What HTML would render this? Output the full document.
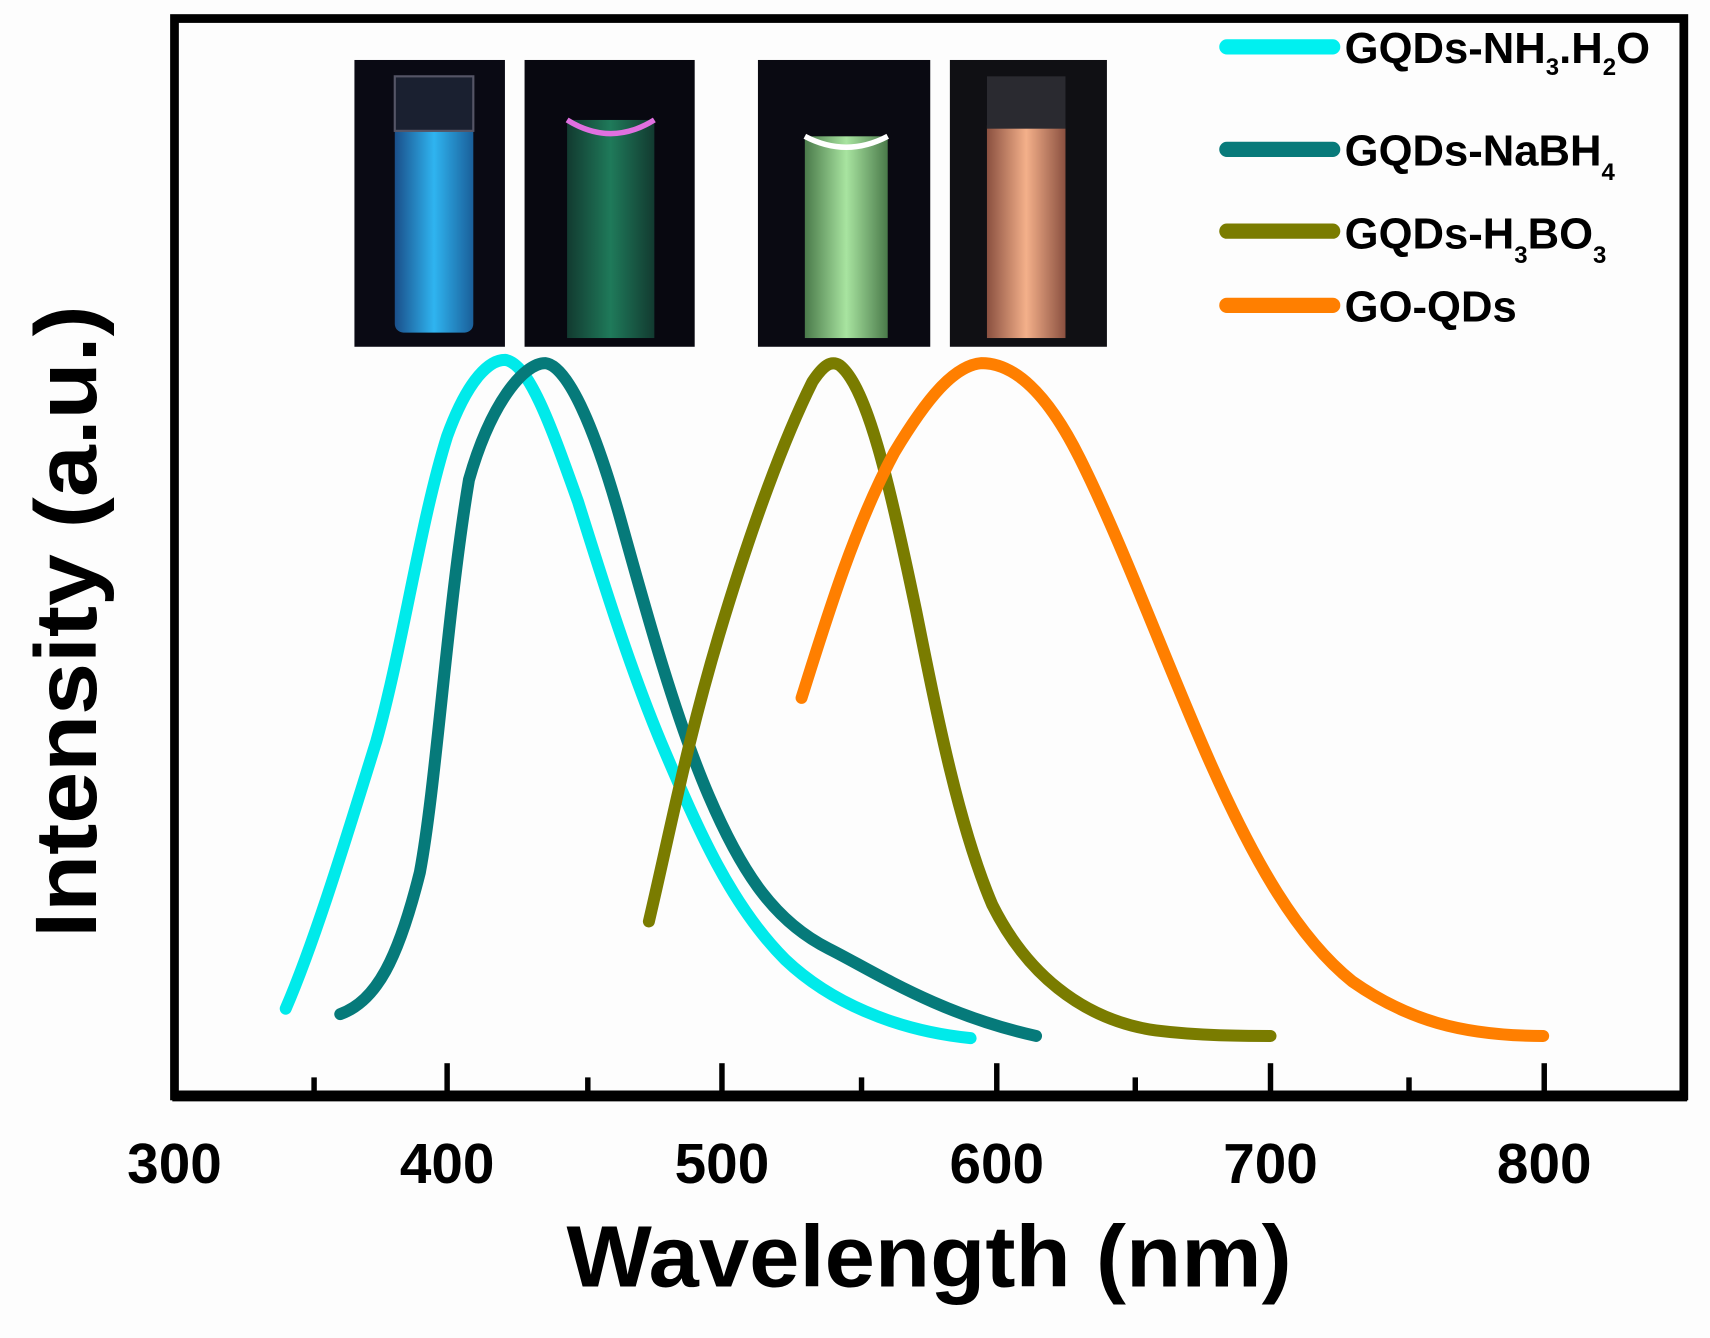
<!DOCTYPE html>
<html><head><meta charset="utf-8"><style>
html,body{margin:0;padding:0;background:#fdfdfd;}
svg{display:block;}
text{font-family:"Liberation Sans",Arial,sans-serif;font-weight:bold;fill:#000;}
</style></head><body>
<svg width="1710" height="1338" viewBox="0 0 1568 1227" preserveAspectRatio="none" xmlns="http://www.w3.org/2000/svg">
<defs>
<linearGradient id="g1" x1="0" y1="0" x2="1" y2="0"><stop offset="0" stop-color="#1a4f8a"/><stop offset=".5" stop-color="#2fb4f0"/><stop offset="1" stop-color="#1a5f9a"/></linearGradient>
<linearGradient id="g2" x1="0" y1="0" x2="1" y2="0"><stop offset="0" stop-color="#123a30"/><stop offset=".5" stop-color="#1f7a5a"/><stop offset="1" stop-color="#123a30"/></linearGradient>
<linearGradient id="g3" x1="0" y1="0" x2="1" y2="0"><stop offset="0" stop-color="#4a7a4a"/><stop offset=".5" stop-color="#a8e4a0"/><stop offset="1" stop-color="#4a7a4a"/></linearGradient>
<linearGradient id="g4" x1="0" y1="0" x2="1" y2="0"><stop offset="0" stop-color="#8a5040"/><stop offset=".5" stop-color="#f4b08a"/><stop offset="1" stop-color="#8a5040"/></linearGradient>
</defs>
<rect width="1568" height="1227" fill="#fdfdfd"/>
<!-- photos -->
<rect x="325" y="55" width="138" height="263" fill="#0a0a14"/>
<rect x="362" y="110" width="72" height="195" rx="8" fill="url(#g1)"/>
<rect x="362" y="70" width="72" height="50" fill="#1a2030" stroke="#556" stroke-width="2"/>
<rect x="481" y="55" width="156" height="263" fill="#080810"/>
<rect x="520" y="110" width="80" height="200" fill="url(#g2)"/>
<path d="M520 110 Q560 135 600 110" stroke="#e070e0" stroke-width="5" fill="none"/>
<rect x="695" y="55" width="158" height="263" fill="#0a0a12"/>
<rect x="738" y="125" width="76" height="185" fill="url(#g3)"/>
<path d="M738 125 Q776 145 814 125" stroke="#fff" stroke-width="5" fill="none"/>
<rect x="871" y="55" width="144" height="263" fill="#101014"/>
<rect x="905" y="115" width="72" height="195" fill="url(#g4)"/>
<rect x="905" y="70" width="72" height="48" fill="#2a2a30"/>
<!-- frame -->
<rect x="160" y="17" width="1384" height="988" fill="none" stroke="#000" stroke-width="8"/>
<line x1="158" y1="1005" x2="1547" y2="1005" stroke="#000" stroke-width="10"/>
<g stroke="#000" stroke-width="5">
<line x1="410" y1="1005" x2="410" y2="975"/><line x1="662" y1="1005" x2="662" y2="975"/><line x1="914" y1="1005" x2="914" y2="975"/><line x1="1165" y1="1005" x2="1165" y2="975"/><line x1="1416" y1="1005" x2="1416" y2="975"/>
<line x1="288" y1="1005" x2="288" y2="988"/><line x1="539" y1="1005" x2="539" y2="988"/><line x1="790" y1="1005" x2="790" y2="988"/><line x1="1041" y1="1005" x2="1041" y2="988"/><line x1="1292" y1="1005" x2="1292" y2="988"/>
</g>
<g font-size="52" text-anchor="middle">
<text x="160" y="1085">300</text><text x="410" y="1085">400</text><text x="662" y="1085">500</text><text x="914" y="1085">600</text><text x="1165" y="1085">700</text><text x="1416" y="1085">800</text>
</g>
<text x="852" y="1180" font-size="80" text-anchor="middle" textLength="665" lengthAdjust="spacingAndGlyphs">Wavelength (nm)</text>
<text transform="translate(88,570) rotate(-90)" font-size="80" text-anchor="middle" textLength="580" lengthAdjust="spacingAndGlyphs">Intensity (a.u.)</text>
<!-- curves -->
<g fill="none" stroke-width="11" stroke-linecap="round" stroke-linejoin="round">
<path stroke="#00eaea" d="M262,925 C290,860 320,760 345,680 C370,590 385,480 410,400 C430,345 450,330 463,330 C485,333 505,390 530,460 C555,540 580,620 610,690 C640,760 670,830 720,880 C760,918 820,945 890,952"/>
<path stroke="#067a7a" d="M312,930 C345,918 365,880 385,800 C400,720 410,560 430,440 C450,370 480,333 500,333 C520,335 545,390 570,480 C595,570 620,660 650,730 C680,800 710,845 760,870 C800,890 860,930 950,950"/>
<path stroke="#7a7c00" d="M595,845 C615,760 630,680 660,580 C690,480 720,400 745,350 C755,335 762,330 770,335 C795,355 815,440 840,560 C860,660 880,760 910,830 C940,890 990,935 1060,945 C1100,950 1140,950 1165,950"/>
<path stroke="#ff7f00" d="M735,640 C760,560 785,480 820,415 C850,365 875,335 900,333 C930,333 960,360 990,420 C1030,500 1070,610 1110,700 C1150,790 1190,860 1240,900 C1290,935 1340,950 1415,950"/>
</g>
<!-- legend -->
<g stroke-width="14" stroke-linecap="round">
<line x1="1125" y1="43" x2="1222" y2="43" stroke="#00f0f0"/>
<line x1="1125" y1="137" x2="1222" y2="137" stroke="#087a7a"/>
<line x1="1125" y1="212" x2="1222" y2="212" stroke="#7a7c00"/>
<line x1="1125" y1="280" x2="1222" y2="280" stroke="#ff7f00"/>
</g>
<g font-size="40">
<text x="1233" y="58">GQDs-NH<tspan font-size="22" dy="11">3</tspan><tspan dy="-11">.H</tspan><tspan font-size="22" dy="11">2</tspan><tspan dy="-11">O</tspan></text>
<text x="1233" y="152">GQDs-NaBH<tspan font-size="22" dy="13">4</tspan></text>
<text x="1233" y="228">GQDs-H<tspan font-size="22" dy="13">3</tspan><tspan dy="-13">BO</tspan><tspan font-size="22" dy="13">3</tspan></text>
<text x="1233" y="295">GO-QDs</text>
</g>
</svg>
</body></html>
